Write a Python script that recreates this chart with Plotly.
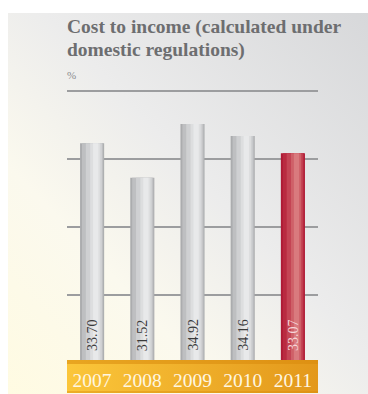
import base64
import plotly.graph_objects as go

# Data
years = ["2007", "2008", "2009", "2010", "2011"]
ratios = [33.70, 31.52, 34.92, 34.16, 33.07]
grid_levels = [24.1, 28.4, 32.7, 37.0]
axis_base = 20.0

title_line1 = "Cost to income (calculated under"
title_line2 = "domestic regulations)"
unit_label = "%"

# Canvas / plot-area geometry (pixels)
W, H = 368, 394
PL, PR, PT, PB = 67, 318, 88, 360
pw, ph = PR - PL, PB - PT
PX_PER_UNIT = 269 / 17.0
axis_top = axis_base + ph / PX_PER_UNIT

GRAY_TEXT = "#3a3a3a"
RED_TEXT = "#f6d6da"

# Cylindrical shading: stacked strips (start, end as fraction of bar width)
BAR_W = 0.48
shade_layers = [
    (0.00, 1.00, "#abacae", "#ae1a35"),
    (0.08, 0.96, "#bebfc1", "#b92a40"),
    (0.24, 0.91, "#cfd0d2", "#c44454"),
    (0.42, 0.84, "#dddedf", "#cf6068"),
    (0.54, 0.76, "#e8e9ea", "#d97a7e"),
]

is_current = [y == years[-1] for y in years]

fig = go.Figure()
for s, e, gray, red in shade_layers:
    fig.add_trace(go.Bar(
        x=years, y=ratios,
        width=[BAR_W * (e - s)] * len(years),
        offset=-BAR_W / 2 + BAR_W * s,
        marker=dict(color=[red if c else gray for c in is_current], line=dict(width=0)),
        hoverinfo="skip", showlegend=False,
    ))

# Value labels, written upwards from the foot of each bar (x = category index)
for i, (v, c) in enumerate(zip(ratios, is_current)):
    fig.add_annotation(
        x=i, y=axis_base, xref="x", yref="y",
        text=f"{v:.2f}", textangle=-90, showarrow=False,
        xanchor="center", yanchor="bottom", yshift=8, borderpad=0,
        font=dict(family="Liberation Serif", size=14, color=RED_TEXT if c else GRAY_TEXT),
    )

# Background panel and orange year band as an SVG backdrop
svg = f"""<svg xmlns='http://www.w3.org/2000/svg' width='{W}' height='{H}' viewBox='0 0 {W} {H}'>
<defs>
<linearGradient id='bg' x1='0' y1='1' x2='1' y2='0'>
<stop offset='0' stop-color='#fffbe2'/>
<stop offset='0.3' stop-color='#fbf9ee'/>
<stop offset='0.55' stop-color='#ececec'/>
<stop offset='1' stop-color='#d7d8da'/>
</linearGradient>
<linearGradient id='band' x1='0' y1='0' x2='1' y2='0'>
<stop offset='0' stop-color='#fbc63a'/>
<stop offset='1' stop-color='#e3981b'/>
</linearGradient>
</defs>
<rect x='8' y='13' width='{W - 8}' height='{H - 13}' fill='url(#bg)'/>
<rect x='{PL}' y='{PB}' width='{pw}' height='33' fill='url(#band)'/>
<rect x='{PL}' y='{PB}' width='{pw}' height='4' fill='#d88a0c' opacity='0.55'/>
<rect x='{PL}' y='{PB + 31}' width='{pw}' height='2' fill='#d88a0c' opacity='0.4'/>
</svg>"""
src = "data:image/svg+xml;base64," + base64.b64encode(svg.encode()).decode()


def py(px):
    return (PB - px) / ph


fig.add_layout_image(dict(
    source=src, xref="paper", yref="paper",
    x=-PL / pw, y=py(0), sizex=W / pw, sizey=H / ph,
    xanchor="left", yanchor="top", sizing="stretch", layer="below",
))

TITLE_FONT = dict(family="Liberation Serif", size=19.5, color="#6d6e70", weight="bold")
fig.add_annotation(text=title_line1, xref="paper", yref="paper", x=0, y=py(35),
                   xanchor="left", yanchor="bottom", showarrow=False,
                   font=TITLE_FONT, borderpad=0, xshift=-1, yshift=-4)
fig.add_annotation(text=title_line2, xref="paper", yref="paper", x=0, y=py(58),
                   xanchor="left", yanchor="bottom", showarrow=False,
                   font=TITLE_FONT, borderpad=0, xshift=-1, yshift=-4)
fig.add_annotation(text=unit_label, xref="paper", yref="paper", x=0, y=py(80),
                   xanchor="left", yanchor="bottom", showarrow=False,
                   font=dict(family="Liberation Serif", size=11, color="#8a8a8c"),
                   borderpad=0, xshift=-1, yshift=-2)

fig.update_layout(
    width=W, height=H,
    margin=dict(l=PL, r=W - PR, t=PT, b=H - PB, pad=0),
    paper_bgcolor="white", plot_bgcolor="rgba(0,0,0,0)",
    barmode="overlay", showlegend=False,
    xaxis=dict(type="category", range=[-0.5, len(years) - 0.5],
               showgrid=False, showline=False, zeroline=False,
               ticks="", automargin=False,
               tickfont=dict(family="Liberation Serif", size=19.5, color="#fff7e2"),
               ticklabelstandoff=6),
    yaxis=dict(range=[axis_base, axis_top], tickvals=grid_levels, showticklabels=False,
               ticks="", showline=False, zeroline=False, automargin=False,
               gridcolor="#9c9d9f", gridwidth=1.5),
)

fig.write_html("out.html")
